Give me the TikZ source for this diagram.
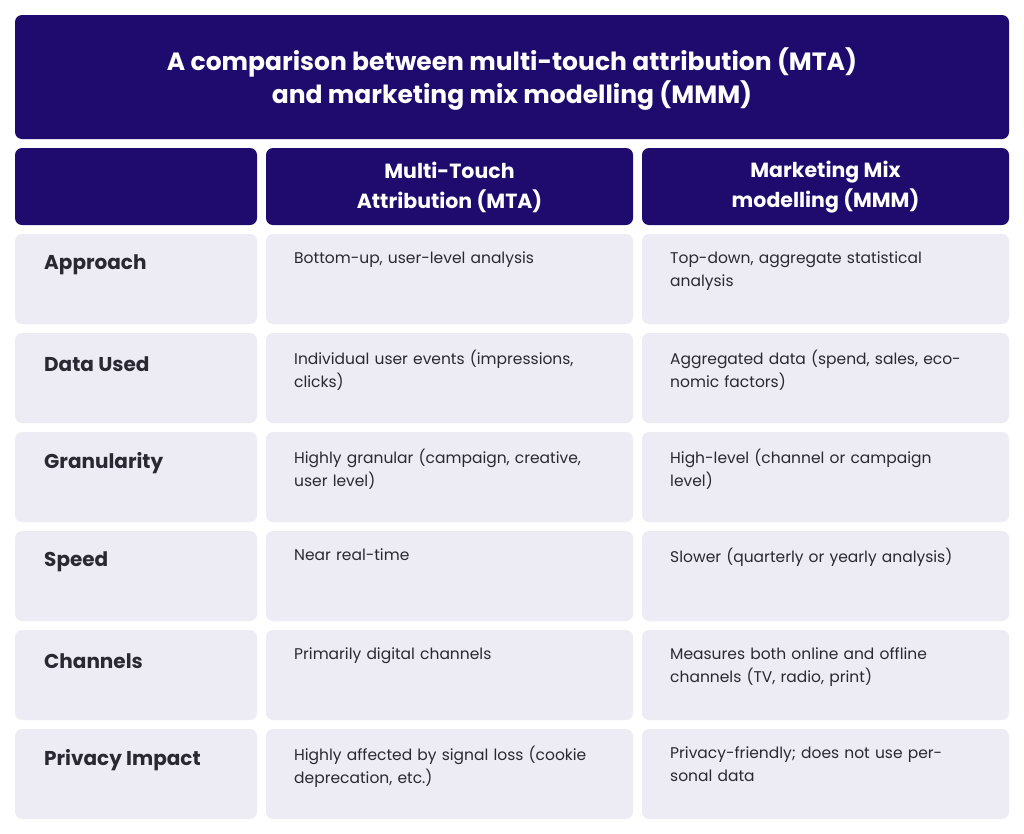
\documentclass[tikz,border=0pt]{standalone}
\usepackage{fontspec}
\setmainfont{Poppins}
\definecolor{navy}{HTML}{1F0A6E}
\definecolor{cellbg}{HTML}{EDECF5}
\definecolor{ink}{HTML}{2A2833}
\begin{document}
\begin{tikzpicture}[x=1pt,y=-1pt,
  hbox/.style={fill=navy,rounded corners=7pt},
  cbox/.style={fill=cellbg,rounded corners=7pt},
  lbl/.style={anchor=west,text=ink,font=\bfseries\fontsize{20}{24}\selectfont,inner sep=0},
  body/.style={anchor=north west,text=ink,font=\fontsize{15.5}{23}\selectfont,text width=300pt,align=left,inner sep=0},
  htxt/.style={text=white,font=\bfseries\fontsize{20.5}{30}\selectfont,align=center,inner sep=0}]
\useasboundingbox (0,0) rectangle (1024,833);
\fill[white] (0,0) rectangle (1024,833);
\fill[hbox] (15,15) rectangle (1009,139);
\node[htxt,font=\bfseries\fontsize{25}{33}\selectfont] (title) at (512,79) {A comparison between multi-touch attribution (MTA)\\and marketing mix modelling (MMM)};
\fill[hbox] (15,148) rectangle (257,225);
\fill[hbox] (266,148) rectangle (633,225);
\fill[hbox] (642,148) rectangle (1009,225);
\node[htxt] (h1) at (449.5,187) {Multi-Touch\\Attribution (MTA)};
\node[htxt] (h2) at (825.5,187) {Marketing Mix\\modelling (MMM)};
\foreach \i/\lab/\a/\b in {
 0/Approach/{Bottom-up, user-level analysis}/{Top-down, aggregate statistical analysis},
 1/Data Used/{Individual user events (impressions, clicks)}/{Aggregated data (spend, sales, economic factors)},
 2/Granularity/{Highly granular (campaign, creative, user level)}/{High-level (channel or campaign level)},
 3/Speed/{Near real-time}/{Slower (quarterly or yearly analysis)},
 4/Channels/{Primarily digital channels}/{Measures both online and offline channels (TV, radio, print)},
 5/Privacy Impact/{Highly affected by signal loss (cookie deprecation, etc.)}/{Privacy-friendly; does not use personal data}}{
  \pgfmathsetmacro\t{234+99*\i}
  \fill[cbox] (15,\t) rectangle (257,\t+90);
  \fill[cbox] (266,\t) rectangle (633,\t+90);
  \fill[cbox] (642,\t) rectangle (1009,\t+90);
  \node[lbl] (l\i) at (44,\t+31) {\lab};
  \node[body] (a\i) at (294,\t+17) {\a};
  \node[body] (b\i) at (670,\t+17) {\b};
}
\end{tikzpicture}
\end{document}
